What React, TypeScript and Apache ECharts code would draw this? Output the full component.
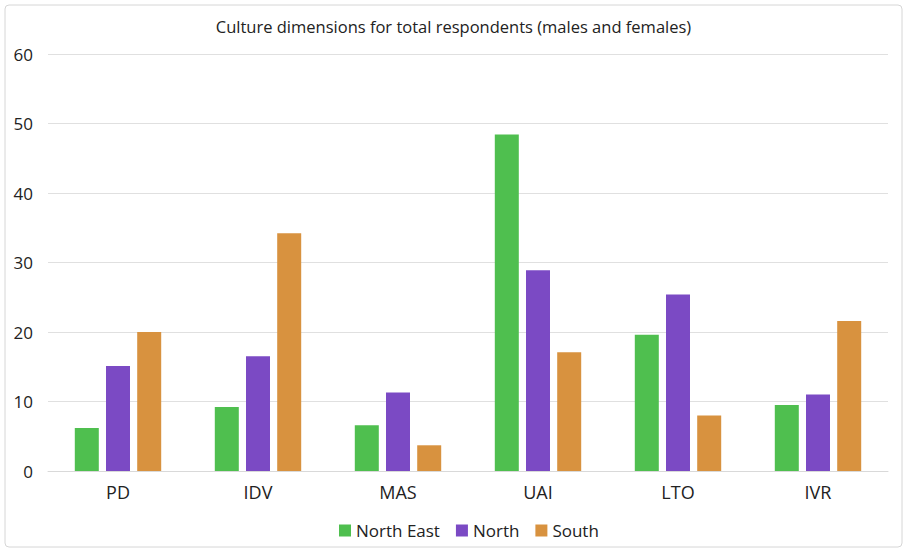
import React, { useEffect, useRef } from "react";
import * as echarts from "echarts";

const categories = ["PD", "IDV", "MAS", "UAI", "LTO", "IVR"];
const northEast = [6.2, 9.2, 6.6, 48.4, 19.6, 9.5];
const north = [15.1, 16.5, 11.3, 28.9, 25.4, 11.0];
const south = [20.0, 34.2, 3.7, 17.1, 8.0, 21.6];
const seriesNames = ["North East", "North", "South"];
const colors = ["#4FBF4F", "#7B4AC4", "#D8923F"];

export default function App() {
  const ref = useRef<HTMLDivElement>(null);
  useEffect(() => {
    document.body.style.margin = "0";
    const chart = echarts.init(ref.current!, null, { renderer: "svg" });
    const font = "Open Sans, Noto Sans, sans-serif";
    const values = [northEast, north, south];
    chart.setOption({
      animation: false,
      backgroundColor: "#ffffff",
      textStyle: { fontFamily: font },
      title: {
        text: "Culture dimensions for total respondents (males and females)",
        left: "center",
        top: 13,
        textStyle: { fontSize: 16.5, fontWeight: "normal", color: "#222", fontFamily: font },
      },
      legend: {
        bottom: 8,
        left: 334,
        itemWidth: 12,
        itemHeight: 12,
        itemGap: 16,
        icon: "rect",
        textStyle: { fontSize: 17, color: "#222", fontFamily: font },
        data: seriesNames,
      },
      grid: { left: 48, right: 19, top: 54, bottom: 81, containLabel: false },
      xAxis: {
        type: "category",
        data: categories,
        axisLine: { lineStyle: { color: "#d9d9d9" } },
        axisTick: { show: false },
        axisLabel: { fontSize: 18, color: "#222", margin: 12, fontFamily: font },
      },
      yAxis: {
        type: "value",
        min: 0,
        max: 60,
        interval: 10,
        axisLine: { show: false },
        axisTick: { show: false },
        axisLabel: { fontSize: 17, color: "#222", margin: 15, fontFamily: font },
        splitLine: { lineStyle: { color: "#e0e0e0", width: 1 } },
      },
      series: seriesNames.map((name, i) => ({
        name,
        type: "bar",
        data: values[i],
        barWidth: 24,
        barGap: "30%",
        itemStyle: { color: colors[i] },
      })),
      graphic: [
        {
          type: "rect",
          shape: { x: 5, y: 5, width: 897, height: 542, r: 4 },
          style: { fill: "none", stroke: "#d6d6d6", lineWidth: 1 },
          silent: true,
        },
      ],
    });
    return () => chart.dispose();
  }, []);
  return (
    <div
      ref={ref}
      style={{ width: 907, height: 552, position: "absolute", left: 0, top: 0 }}
    />
  );
}
